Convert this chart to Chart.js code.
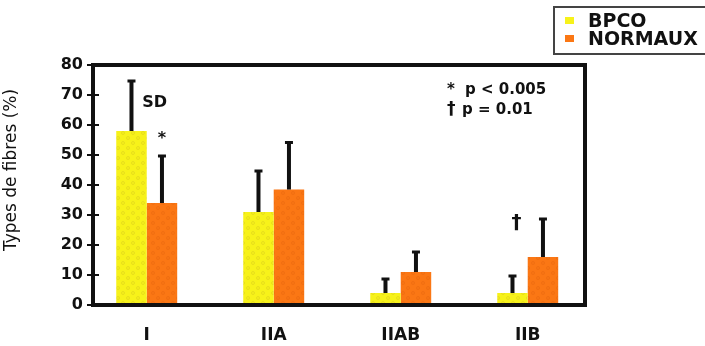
<!DOCTYPE html>
<html><head><meta charset="utf-8">
<script src="https://cdn.jsdelivr.net/npm/chart.js@4.4.1/dist/chart.umd.min.js"></script>
<style>
html,body{margin:0;padding:0;background:#fff;overflow:hidden}
#wrap{position:relative;width:705px;height:346px}
#c{position:absolute;left:0;top:0}
#legend{position:absolute;left:553px;top:6px;width:170px;height:49px;border:2px solid #444;box-sizing:border-box;font-family:"DejaVu Sans",sans-serif;font-weight:bold;font-size:19px;color:#111}
.item{position:absolute;left:10px;height:20px;line-height:20px;white-space:nowrap}
.sw{display:inline-block;width:9px;height:7px;margin-right:14px;vertical-align:middle;position:relative;top:-1px}
</style></head>
<body>
<div id="wrap">
<canvas id="c" width="705" height="346"></canvas>
<div id="legend"></div>
</div>
<script>
const categories = ['I', 'IIA', 'IIAB', 'IIB'];
const seriesNames = ['BPCO', 'NORMAUX'];
const bpcoValues = [58, 31, 4, 4];
const bpcoSD = [17, 14, 5, 6];
const normauxValues = [34, 38.5, 11, 16];
const normauxSD = [16, 16, 7, 13];
const yTitle = 'Types de fibres (%)';
const notes = ['*', 'p < 0.005', '\u2020', 'p = 0.01'];

const colors = ['#f7f21a', '#fb7714'];
const dotColors = ['#e2d81e', '#ee6c12'];

const canvas = document.getElementById('c');
const mctx = canvas.getContext('2d');
function makePattern(base, dot){
  const c = document.createElement('canvas'); c.width = 10; c.height = 10;
  const g = c.getContext('2d');
  g.fillStyle = base; g.fillRect(0,0,10,10);
  g.strokeStyle = dot; g.lineWidth = 0.8;
  g.beginPath(); g.arc(3,3,1.5,0,2*Math.PI); g.stroke();
  g.beginPath(); g.arc(8,8,1.5,0,2*Math.PI); g.stroke();
  return mctx.createPattern(c, 'repeat');
}

// legend
const leg = document.getElementById('legend');
seriesNames.forEach((n,i)=>{
  const d = document.createElement('div'); d.className='item';
  d.style.top = (i===0 ? 2 : 19.5) + 'px';
  d.innerHTML = '<span class="sw" style="background:'+colors[i]+'"></span>';
  d.appendChild(document.createTextNode(n));
  leg.appendChild(d);
});

const sds = [bpcoSD, normauxSD];
const overlay = {
  id: 'overlay',
  afterDatasetsDraw(chart){
    const ctx = chart.ctx, y = chart.scales.y;
    ctx.save();
    ctx.strokeStyle = '#111';
    chart.data.datasets.forEach((ds,i)=>{
      chart.getDatasetMeta(i).data.forEach((bar,j)=>{
        const top = y.getPixelForValue(ds.data[j].y + sds[i][j]);
        ctx.lineWidth = 4; ctx.lineCap = 'butt';
        ctx.beginPath(); ctx.moveTo(bar.x, bar.y); ctx.lineTo(bar.x, top); ctx.stroke();
        ctx.lineWidth = 3;
        ctx.beginPath(); ctx.moveTo(bar.x-4, top+1); ctx.lineTo(bar.x+4, top+1); ctx.stroke();
      });
    });
    ctx.restore();
  },
  afterDraw(chart){
    const ctx = chart.ctx, a = chart.chartArea, y = chart.scales.y, x = chart.scales.x;
    ctx.save();
    ctx.strokeStyle = '#111'; ctx.lineWidth = 4;
    ctx.strokeRect(a.left, a.top, a.right - a.left, a.bottom - a.top);
    ctx.lineWidth = 2;
    y.ticks.forEach(t=>{
      const py = y.getPixelForValue(t.value);
      ctx.beginPath(); ctx.moveTo(a.left, py); ctx.lineTo(a.left + 6, py); ctx.stroke();
    });
    ctx.fillStyle = '#111';
    ctx.font = '17px "DejaVu Sans"';
    ctx.textAlign = 'center'; ctx.textBaseline = 'middle';
    ctx.translate(12, (a.top + a.bottom)/2 - 15);
    ctx.rotate(-Math.PI/2);
    ctx.fillText(yTitle, 0, 0);
    ctx.restore();

    ctx.save();
    ctx.fillStyle = '#111';
    ctx.textAlign = 'center'; ctx.textBaseline = 'middle';
    ctx.font = 'bold 16px "DejaVu Sans"';
    ctx.fillText('SD', x.getPixelForValue(0) + 8, y.getPixelForValue(67.3));
    const b1 = chart.getDatasetMeta(1).data[0];
    ctx.fillText('*', b1.x, y.getPixelForValue(55.5));
    const b0 = chart.getDatasetMeta(0).data[3];
    ctx.font = 'bold 20px "DejaVu Sans"';
    ctx.fillText('\u2020', b0.x + 4, y.getPixelForValue(27.3));
    ctx.textAlign = 'left';
    ctx.font = 'bold 15px "DejaVu Sans"';
    const nx = a.right - 138;
    ctx.fillText(notes[0], nx, y.getPixelForValue(71.5));
    ctx.fillText(notes[1], nx + 18, y.getPixelForValue(71.7));
    ctx.font = 'bold 17px "DejaVu Sans"';
    ctx.fillText(notes[2], nx, y.getPixelForValue(65));
    ctx.font = 'bold 15px "DejaVu Sans"';
    ctx.fillText(notes[3], nx + 15, y.getPixelForValue(65));
    ctx.restore();
  }
};

new Chart(canvas, {
  type: 'bar',
  data: {
    datasets: [
      { label: seriesNames[0], data: bpcoValues.map((v,i)=>({x:i, y:v})), backgroundColor: makePattern(colors[0], dotColors[0]), borderWidth: 0, categoryPercentage: 0.48, barPercentage: 1.0 },
      { label: seriesNames[1], data: normauxValues.map((v,i)=>({x:i, y:v})), backgroundColor: makePattern(colors[1], dotColors[1]), borderWidth: 0, categoryPercentage: 0.48, barPercentage: 1.0 }
    ]
  },
  options: {
    responsive: false,
    animation: false,
    layout: { padding: { left: 2, top: 65, right: 120, bottom: 0 } },
    plugins: { legend: { display: false }, tooltip: { enabled: false } },
    scales: {
      x: {
        type: 'linear',
        min: -0.423, max: 3.451,
        offset: false,
        grid: { display: false, drawTicks: false },
        border: { display: false },
        afterBuildTicks(s){ s.ticks = categories.map((c,i)=>({ value: i })); },
        ticks: { color: '#111', font: { family: 'DejaVu Sans', weight: 'bold', size: 17 }, padding: 20, autoSkip: false, maxRotation: 0,
                 callback: (v)=>categories[v] },
        afterFit(s){ s.height = 41; }
      },
      y: {
        min: 0, max: 80,
        grid: { drawOnChartArea: false, drawTicks: true, tickLength: 6, color: '#111', lineWidth: 2 },
        border: { display: false },
        ticks: { stepSize: 10, color: '#111', font: { family: 'DejaVu Sans', weight: 'bold', size: 16 }, padding: 4 },
        afterFit(s){ s.width = 91; }
      }
    }
  },
  plugins: [overlay]
});
</script>
</body></html>
